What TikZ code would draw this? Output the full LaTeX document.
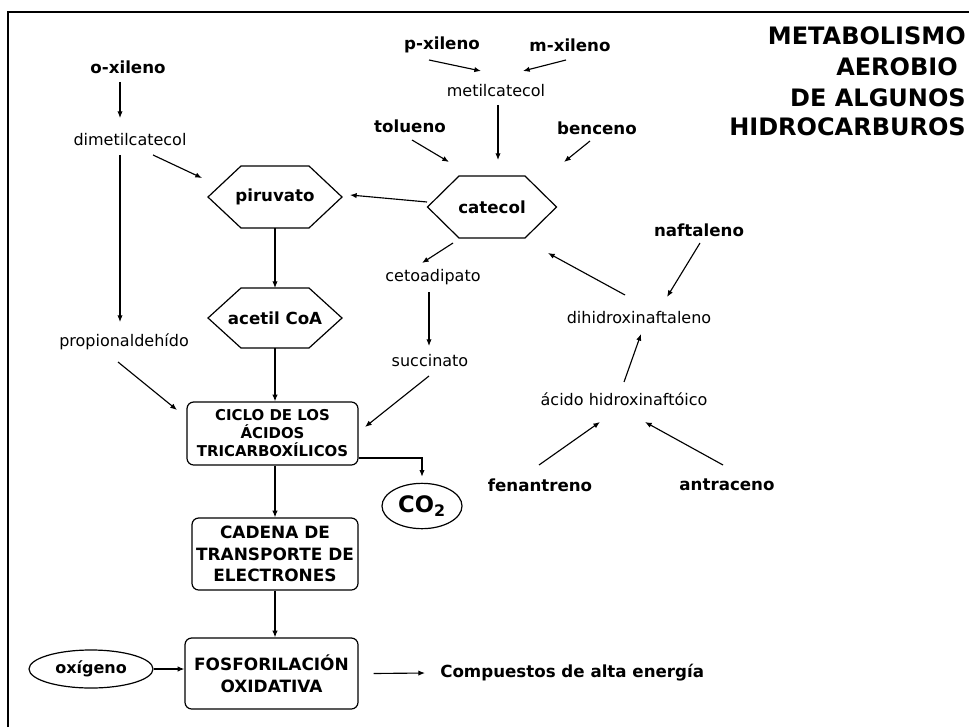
\documentclass[tikz,border=0pt]{standalone}
\usepackage{fontspec}
\setmainfont{DejaVu Sans}
\usetikzlibrary{arrows.meta,calc,shapes.geometric}
\newcommand\drawhex[4]{\draw[hexline] ($(#1)+(-#2,0)$) -- ($(#1)+(-#3,-#4)$) -- ($(#1)+(#3,-#4)$) -- ($(#1)+(#2,0)$) -- ($(#1)+(#3,#4)$) -- ($(#1)+(-#3,#4)$) -- cycle;}
\begin{document}
\begin{tikzpicture}[x=0.75pt,y=-0.75pt,
  lbl/.style={inner sep=0pt,font=\fontsize{12}{14}\selectfont},
  blbl/.style={inner sep=0pt,font=\bfseries\fontsize{12.5}{15}\selectfont},
  ttl/.style={inner sep=0pt,anchor=east,font=\bfseries\fontsize{18}{22}\selectfont},
  arr/.style={-{Latex[length=5pt,width=4pt]},line width=0.85pt},
  hexline/.style={line width=0.9pt},
  procbox/.style={draw,line width=0.9pt,rounded corners=5pt,align=center,inner sep=1pt},
  oval/.style={draw,ellipse,line width=0.9pt,inner sep=0pt}]
\useasboundingbox (0,0) rectangle (969,727);
\fill[white] (0,0) rectangle (969,727);
% frame
\draw[line width=1.5pt] (8,727) -- (8,12) -- (969,12);
% title
\node[ttl] (t1) at (966,36) {METABOLISMO};
\node[ttl] (t2) at (958,67) {AEROBIO};
\node[ttl] (t3) at (966,98) {DE ALGUNOS};
\node[ttl] (t4) at (966,127) {HIDROCARBUROS};
% labels
\node[blbl] (oxil) at (128,67) {o-xileno};
\node[lbl] (dmc) at (130,140) {dimetilcatecol};
\node[lbl] (prop) at (124,342) {propionaldehído};
\node[blbl] (pxil) at (442,45) {p-xileno};
\node[blbl] (mxil) at (570,45) {m-xileno};
\node[lbl] (metil) at (496,91) {metilcatecol};
\node[blbl] (tol) at (410,126) {tolueno};
\node[blbl] (benc) at (597,128) {benceno};
\node[lbl] (ceto) at (433,277) {cetoadipato};
\node[lbl] (succ) at (430,361) {succinato};
\node[blbl] (naft) at (699,230) {naftaleno};
\node[lbl] (dihid) at (639,318) {dihidroxinaftaleno};
\node[lbl] (acido) at (624,399) {ácido hidroxinaftóico};
\node[blbl] (fen) at (540,485) {fenantreno};
\node[blbl] (antr) at (727,485) {antraceno};
% hexagons
\node[blbl] (piru) at (275,197) {piruvato};
\drawhex{piru}{67}{34}{31}
\node[blbl] (acet) at (275,318) {acetil CoA};
\drawhex{acet}{67}{34}{30}
\node[blbl] (cat) at (492,207) {catecol};
\drawhex{cat}{64.5}{33}{31}
% boxes
\node[procbox,minimum width=128.25pt,minimum height=47.25pt,font=\bfseries\fontsize{11.2}{13.5}\selectfont] (ciclo) at (272.5,433.5) {CICLO DE LOS\\ÁCIDOS\\TRICARBOXÍLICOS};
\node[procbox,minimum width=124.5pt,minimum height=54pt,font=\bfseries\fontsize{12.7}{16}\selectfont] (cad) at (275,554) {CADENA DE\\TRANSPORTE DE\\ELECTRONES};
\node[procbox,minimum width=129.75pt,minimum height=53.25pt,font=\bfseries\fontsize{12.7}{16.5}\selectfont] (fos) at (271.5,673.5) {FOSFORILACIÓN\\OXIDATIVA};
% ellipses
\node[oval,minimum width=93pt,minimum height=28.5pt,font=\bfseries\fontsize{12}{14}\selectfont] (oxig) at (91,669) {oxígeno};
\node[oval,minimum width=60pt,minimum height=34pt,font=\bfseries\fontsize{17}{20}\selectfont] (co2) at (422,506) {CO\textsubscript{2}};
\node[blbl,anchor=west] (comp) at (440,673) {Compuestos de alta energía};
% connectors
\draw[arr] ($(oxil)+(-8,15)$) -- ($(dmc)+(-10,-22)$);
\draw[arr] ($(dmc)+(23,15)$) -- ($(piru)+(-73,-19)$);
\draw[arr] ($(dmc)+(-10,15)$) -- ($(prop)+(-4,-20)$);
\draw[arr] ($(prop)+(-6,20)$) -- ($(ciclo)+(-95.5,-23.5)$);
\draw[arr] ($(cat)+(-65,-5)$) -- ($(piru)+(75,-2)$);
\draw[arr] ($(pxil)+(-13,15)$) -- ($(metil)+(-15,-20)$);
\draw[arr] ($(mxil)+(-4,15)$) -- ($(metil)+(27,-20)$);
\draw[arr] ($(metil)+(2,14)$) -- ($(cat)+(6,-47)$);
\draw[arr] ($(tol)+(2,14)$) -- ($(cat)+(-43,-45)$);
\draw[arr] ($(benc)+(-7,13)$) -- ($(cat)+(72,-45)$);
\draw[arr] ($(cat)+(-39,36)$) -- ($(ceto)+(-11,-14)$);
\draw[arr] ($(ceto)+(-4,15)$) -- ($(succ)+(-1,-15)$);
\draw[arr] ($(succ)+(-1,15)$) -- ($(ciclo)+(92.5,-6.5)$);
\draw[arr] ($(piru)+(0,31)$) -- ($(acet)+(0,-30)$);
\draw[arr] ($(acet)+(0,30)$) -- (acet |- ciclo.north);
\draw[arr] ($(ciclo.east)+(0,24.5)$) -| ($(co2.north)+(0,-6)$);
\draw[arr] (cad |- ciclo.south) -- (cad.north);
\draw[arr] (cad.south) -- (cad.south |- fos.north);
\draw[arr] (oxig.east) -- (oxig.east -| fos.west);
\draw[arr] ($(fos.east)+(15,0)$) -- ($(comp.west)+(-15,0)$);
\draw[arr] ($(naft)+(1,13)$) -- ($(dihid)+(28,-21)$);
\draw[arr] ($(dihid)+(-14,-23)$) -- ($(cat)+(56,46)$);
\draw[arr] ($(acido)+(0,-17)$) -- ($(dihid)+(2,16)$);
\draw[arr] ($(fen)+(-1,-20)$) -- ($(acido)+(-24,23)$);
\draw[arr] ($(antr)+(-4,-20)$) -- ($(acido)+(21,23)$);
\end{tikzpicture}
\end{document}
